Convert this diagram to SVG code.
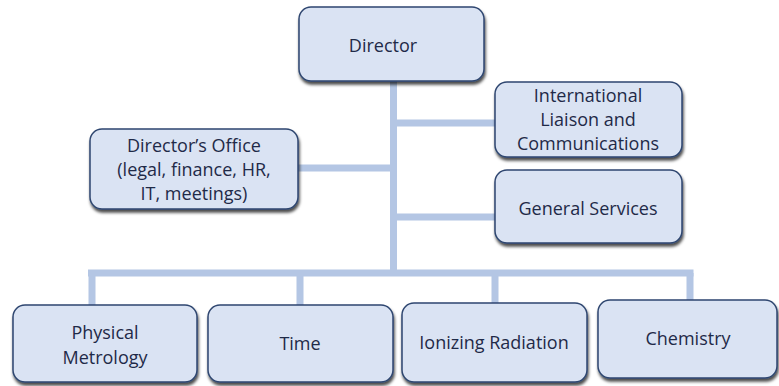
<svg xmlns="http://www.w3.org/2000/svg" width="779" height="386" viewBox="0 0 779 386">
<defs>
<filter id="sh" x="-10%" y="-10%" width="125%" height="135%">
<feDropShadow dx="1" dy="3" stdDeviation="1.6" flood-color="#000" flood-opacity="0.7"/>
</filter>
</defs>
<style>
.box{fill:#dae3f3;stroke:#2f4670;stroke-width:1.5;filter:url(#sh)}
.t{font-family:"Open Sans",sans-serif;font-size:18px;fill:#1f2a48;text-anchor:middle;dominant-baseline:central}
.c{stroke:#b4c6e4;stroke-width:7;fill:none}
</style>
<rect width="779" height="386" fill="#fff"/>
<g id="connectors">
<path class="c" d="M393.5 80V273"/>
<path class="c" d="M88 273H693.5"/>
<path class="c" d="M92 273V306M300 273V306M495 273V304M690 273V301"/>
<path class="c" d="M297 168H393.5M393.5 123H496M393.5 217H496"/>
</g>
<g id="director"><rect class="box" x="299" y="7" width="185" height="74" rx="12"/><text class="t" x="383" y="45">Director</text></g>
<g id="directors-office"><rect class="box" x="90" y="129" width="208" height="80" rx="12"/><text class="t" x="194" y="145">Director’s Office</text><text class="t" x="194" y="169">(legal, finance, HR,</text><text class="t" x="194" y="193">IT, meetings)</text></g>
<g id="international"><rect class="box" x="495" y="82" width="187" height="75" rx="12"/><text class="t" x="588" y="95">International</text><text class="t" x="588" y="119">Liaison and</text><text class="t" x="588" y="143">Communications</text></g>
<g id="general-services"><rect class="box" x="495" y="170" width="187" height="73" rx="12"/><text class="t" x="588" y="208">General Services</text></g>
<g id="physical-metrology"><rect class="box" x="13" y="305" width="184" height="77" rx="12"/><text class="t" x="105" y="332">Physical</text><text class="t" x="105" y="357">Metrology</text></g>
<g id="time"><rect class="box" x="208" y="305" width="185" height="77" rx="12"/><text class="t" x="300" y="343">Time</text></g>
<g id="ionizing-radiation"><rect class="box" x="402" y="303" width="185" height="79" rx="12"/><text class="t" x="494" y="342">Ionizing Radiation</text></g>
<g id="chemistry"><rect class="box" x="598" y="300" width="179" height="78" rx="12"/><text class="t" x="688" y="338">Chemistry</text></g>
</svg>
